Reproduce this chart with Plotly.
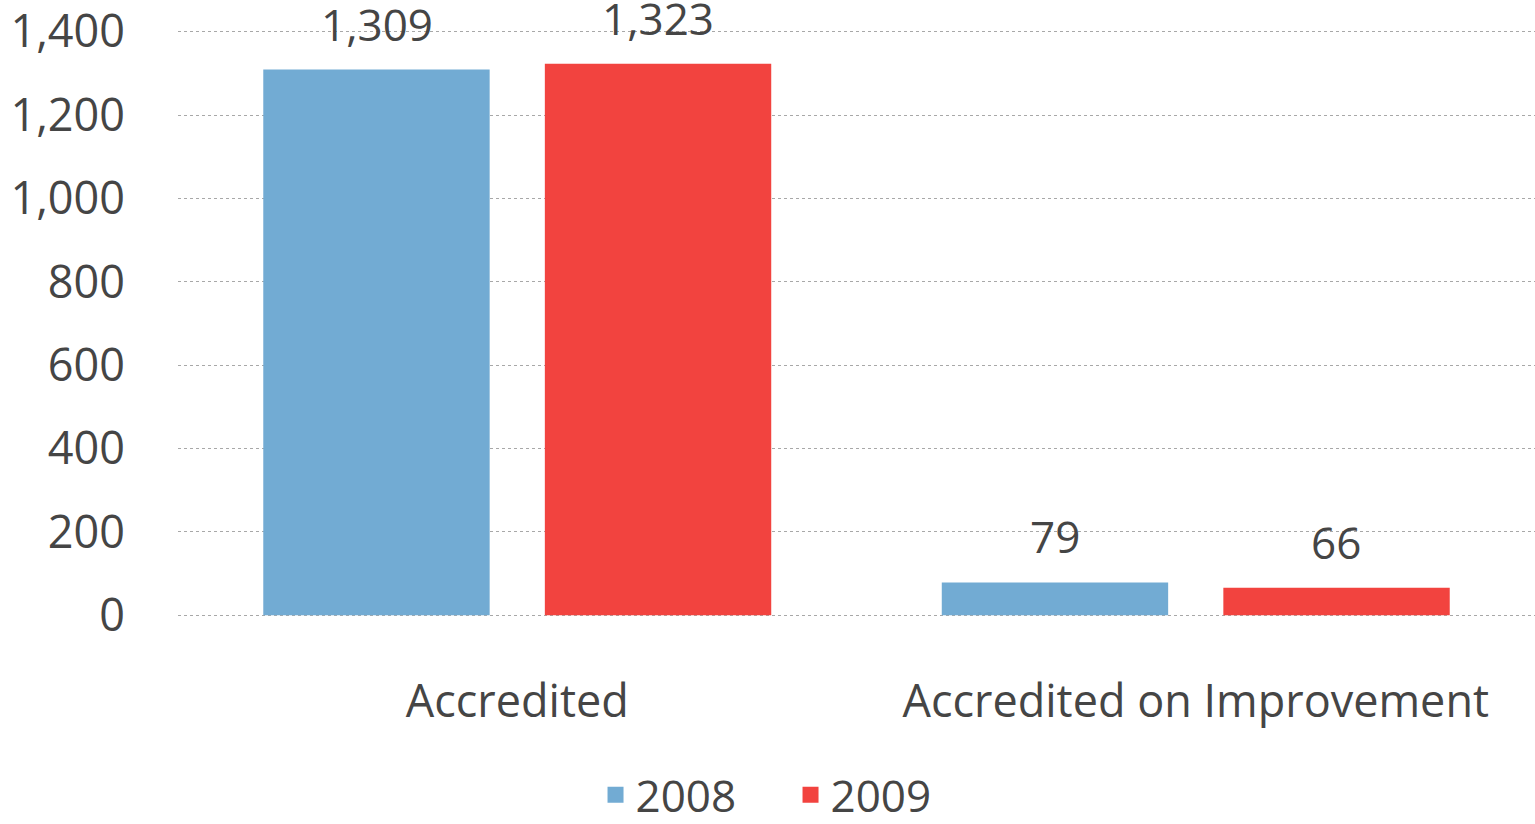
import plotly.graph_objects as go

categories = ["Accredited", "Accredited on Improvement"]
years = ["2008", "2009"]
values_2008 = [1309, 79]
values_2009 = [1323, 66]
y_ticks = [0, 200, 400, 600, 800, 1000, 1200, 1400]

colors = {"2008": "#72ABD3", "2009": "#F2433F"}
font_family = "Open Sans, Noto Sans, sans-serif"
text_color = "#454545"

fig = go.Figure()

for year, vals in zip(years, [values_2008, values_2009]):
    fig.add_trace(go.Bar(x=categories, y=vals, name=year, showlegend=False,
                         marker=dict(color=colors[year], line=dict(width=0))))
    # bigger square legend keys than the bar default
    fig.add_trace(go.Scatter(x=[None], y=[None], mode="markers", name=year,
                             marker=dict(symbol="square", size=22, color=colors[year])))

# value labels sit a bit higher above the bars than plotly's outside text
annots = []
offsets = [-0.207, 0.207]
for i, vals in enumerate([values_2008, values_2009]):
    for j, v in enumerate(vals):
        annots.append(dict(x=j + offsets[i], y=v, xref="x", yref="y",
                           text=f"{v:,}", showarrow=False, yanchor="bottom",
                           yshift=14, font=dict(size=44, color=text_color)))

fig.update_layout(
    barmode="group",
    bargap=0.17,
    bargroupgap=0.196,
    width=1535, height=824,
    margin=dict(l=178, r=0, t=30, b=207, autoexpand=False),
    plot_bgcolor="white",
    paper_bgcolor="white",
    font=dict(family=font_family, size=42, color=text_color),
    annotations=annots,
    showlegend=True,
    legend=dict(orientation="h", xref="container", yref="container",
                x=0.515, y=0.035, xanchor="center", yanchor="middle",
                itemsizing="trace", entrywidth=150,
                font=dict(size=44, color=text_color)),
    xaxis=dict(showgrid=False, showline=False, ticks="", automargin=False,
               ticklabelstandoff=54, tickfont=dict(size=45)),
    yaxis=dict(range=[-4, 1404], tickvals=y_ticks, tickformat=",",
               showgrid=True, gridcolor="#a8a8a8", griddash="dot", gridwidth=1,
               zeroline=False, automargin=False, ticklabeloverflow="allow",
               ticks="", ticklabelstandoff=52, tickfont=dict(size=45)),
)

# page body has an 8px default margin; drop it so the figure fills the window
fig.write_html("out.html", config={"displayModeBar": False},
               post_script="document.body.style.margin='0';"
                           "document.body.style.overflow='hidden';")
